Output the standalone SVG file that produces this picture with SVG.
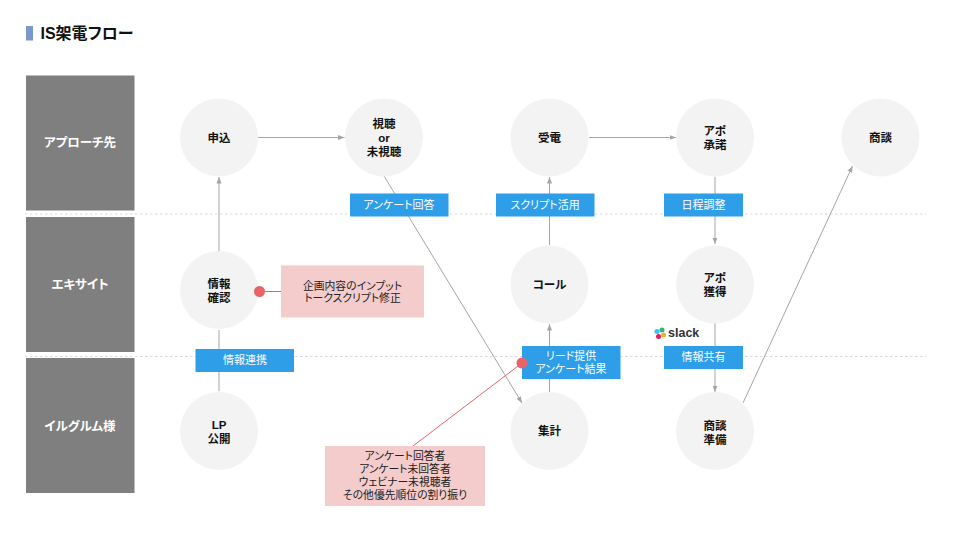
<svg xmlns="http://www.w3.org/2000/svg" width="960" height="540" viewBox="0 0 960 540">
<defs>
<marker id="arr" markerUnits="userSpaceOnUse" markerWidth="7" markerHeight="6" refX="6.500" refY="3" orient="auto"><path d="M0 0.500L6.500 3L0 5.500Z" fill="#a5a5a5"/></marker>
</defs>
<style>
text{font-family:"Liberation Sans","Noto Sans CJK JP",sans-serif;text-anchor:middle;font-feature-settings:"palt"}
.lane{fill:#7f7f7f}
.lt{fill:#fff;font-size:12.500px;font-weight:700}
.c{fill:#f3f3f3}
.n{fill:#111;font-size:11.500px;font-weight:700}
.b{fill:#2f9ee8}
.bt{fill:#fff;font-size:11px}
.p{fill:#f4cccc}
.pt{fill:#222;font-size:10.800px}
.e{fill:none;stroke:#a5a5a5;stroke-width:1}
.r{fill:none;stroke:#e06666;stroke-width:1}
.d{fill:#e9636a}
.dash{stroke:#d9d9d9;stroke-width:1;stroke-dasharray:2.500 2.500;fill:none}
</style>
<rect width="960" height="540" fill="#fff"/>
<g id="dividers"><path class="dash" d="M25 214H926"/><path class="dash" d="M25 356.500H926"/></g>
<g id="title"><rect x="26" y="26" width="7" height="14.500" fill="#7f96cc"/><text x="40.500" y="38.500" style="text-anchor:start;font-size:16px;font-weight:700" fill="#111">IS架電フロー</text></g>
<g id="lane1"><rect class="lane" x="26" y="75.500" width="108.500" height="135"/><text class="lt" x="80" y="147">アプローチ先</text></g>
<g id="lane2"><rect class="lane" x="26" y="217" width="108.500" height="135"/><text class="lt" x="80" y="288.500">エキサイト</text></g>
<g id="lane3"><rect class="lane" x="26" y="358" width="108.500" height="135"/><text class="lt" x="80" y="430.500">イルグルム様</text></g>
<g id="connectors">
<path class="e" d="M258 137.500H344.500" marker-end="url(#arr)"/>
<path class="e" d="M219 251V177" marker-end="url(#arr)"/>
<path class="e" d="M219 391V330"/>
<path class="e" d="M384 176L522 403" marker-end="url(#arr)"/>
<path class="e" d="M589 137.500H676" marker-end="url(#arr)"/>
<path class="e" d="M549.500 245V177" marker-end="url(#arr)"/>
<path class="e" d="M549.500 392V324" marker-end="url(#arr)"/>
<path class="e" d="M715 177V244" marker-end="url(#arr)"/>
<path class="e" d="M715 323V392" marker-end="url(#arr)"/>
<path class="e" d="M743 403L852.500 166" marker-end="url(#arr)"/>
<path class="r" d="M259 291.500H281"/>
<path class="r" d="M522 363L413 446"/>
</g>
<g id="n-moushikomi"><circle class="c" cx="219" cy="137.500" r="39"/><text class="n" x="219" y="142">申込</text></g>
<g id="n-shichou"><circle class="c" cx="384" cy="137.500" r="39"/><text class="n" x="384" y="127.500">視聴</text><text class="n" x="384" y="142">or</text><text class="n" x="384" y="155.500">未視聴</text></g>
<g id="n-juden"><circle class="c" cx="549.500" cy="137.500" r="39"/><text class="n" x="549.500" y="142">受電</text></g>
<g id="n-shoudaku"><circle class="c" cx="715" cy="137.500" r="39"/><text class="n" x="715" y="134.500">アポ</text><text class="n" x="715" y="149">承諾</text></g>
<g id="n-shoudan"><circle class="c" cx="880.500" cy="137.500" r="39"/><text class="n" x="880.500" y="142">商談</text></g>
<g id="n-kakunin"><circle class="c" cx="219" cy="290" r="39"/><text class="n" x="219" y="287.500">情報</text><text class="n" x="219" y="302">確認</text></g>
<g id="n-call"><circle class="c" cx="549.500" cy="284.500" r="39"/><text class="n" x="549.500" y="289">コール</text></g>
<g id="n-kakutoku"><circle class="c" cx="715" cy="284.500" r="39"/><text class="n" x="715" y="281.500">アポ</text><text class="n" x="715" y="295.500">獲得</text></g>
<g id="n-lp"><circle class="c" cx="219" cy="431" r="39"/><text class="n" x="219" y="429">LP</text><text class="n" x="219" y="443">公開</text></g>
<g id="n-shukei"><circle class="c" cx="549.500" cy="431" r="39"/><text class="n" x="549.500" y="435">集計</text></g>
<g id="n-junbi"><circle class="c" cx="715" cy="431" r="39"/><text class="n" x="715" y="429.500">商談</text><text class="n" x="715" y="443.500">準備</text></g>
<g id="l-kaito"><rect class="b" x="350" y="193.500" width="98.500" height="23"/><text class="bt" x="399" y="209">アンケート回答</text></g>
<g id="l-script"><rect class="b" x="496" y="193.500" width="98.500" height="23"/><text class="bt" x="545" y="209">スクリプト活用</text></g>
<g id="l-nittei"><rect class="b" x="664" y="193.500" width="79" height="23"/><text class="bt" x="703.500" y="209">日程調整</text></g>
<g id="l-renkei"><rect class="b" x="195.500" y="349" width="98.500" height="23"/><text class="bt" x="245" y="364">情報連携</text></g>
<g id="l-lead"><rect class="b" x="522" y="346" width="98.500" height="33"/><text class="bt" x="571" y="360">リード提供</text><text class="bt" x="571" y="373">アンケート結果</text></g>
<g id="l-kyoyu"><rect class="b" x="664" y="346" width="79" height="23"/><text class="bt" x="703.500" y="361">情報共有</text></g>
<g id="note1"><circle class="d" cx="259.500" cy="291.500" r="5.500"/><rect class="p" x="281" y="265.500" width="143" height="52"/><text class="pt" x="352.500" y="289.500">企画内容のインプット</text><text class="pt" x="352.500" y="302">トークスクリプト修正</text></g>
<g id="note2"><circle class="d" cx="522" cy="363" r="5.500"/><rect class="p" x="325" y="446" width="160" height="60"/><text class="pt" x="405" y="460">アンケート回答者</text><text class="pt" x="405" y="473">アンケート未回答者</text><text class="pt" x="405" y="486">ウェビナー未視聴者</text><text class="pt" x="405" y="499">その他優先順位の割り振り</text></g>
<g id="slack"><circle cx="657" cy="331.500" r="2.500" fill="#36c5f0"/><circle cx="662" cy="330" r="2.500" fill="#2eb67d"/><circle cx="663.500" cy="335" r="2.500" fill="#ecb22e"/><circle cx="658.500" cy="336.500" r="2.500" fill="#e01e5a"/><text x="668" y="337" style="text-anchor:start;font-size:12.500px;font-weight:700" fill="#333">slack</text></g>
</svg>
